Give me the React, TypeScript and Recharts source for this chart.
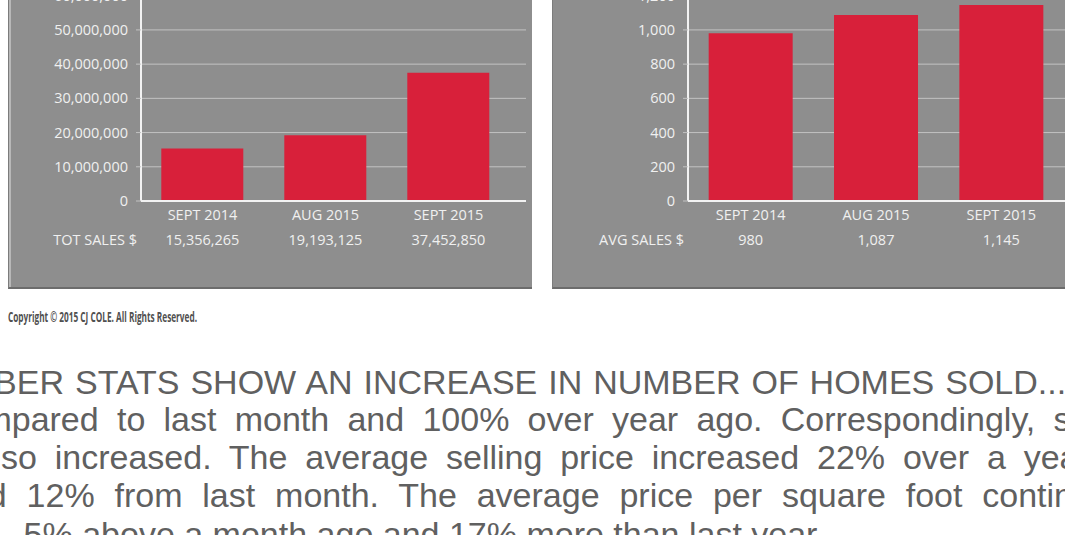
import { BarChart, Bar, XAxis, YAxis, CartesianGrid } from 'recharts';

const categories = ['SEPT 2014', 'AUG 2015', 'SEPT 2015'];
const totalSales = [15356265, 19193125, 37452850];
const avgSales = [980, 1087, 1145];
const totalTicks = [0, 10000000, 20000000, 30000000, 40000000, 50000000, 60000000];
const avgTicks = [0, 200, 400, 600, 800, 1000, 1200];

const copyright = 'Copyright © 2015 CJ COLE. All Rights Reserved.';
const paragraphLines = [
  'SEPTEMBER STATS SHOW AN INCREASE IN NUMBER OF HOMES SOLD...',
  'compared to last month and 100% over year ago. Correspondingly, sales',
  'also increased. The average selling price increased 22% over a year',
  'and 12% from last month. The average price per square foot continued',
  '5% above a month ago and 17% more than last year.',
];

// left offset, word spacing, baseline for each visible line
const lineLayout = [
  { left: -145.7, ws: 1.5, base: 393.3 },
  { left: -52.5, ws: 8.8, base: 431 },
  { left: -25.5, ws: 8.4, base: 469 },
  { left: -50, ws: 10.4, base: 506.7 },
  { left: 23.6, ws: 0, base: 545.5 },
];

const PANEL = '#8e8e8e';
const RED = '#d8203a';
const AXIS = '#f2f2f2';
const GRID = '#c2c2c2';
const LABEL = '#f0f0f0';
const FONT = '"Open Sans", "Liberation Sans", sans-serif';

const fmt = (v: number) => v.toLocaleString('en-US');

function StatChart({ values, ticks, rowLabel, yWidth, marginRight }: {
  values: number[];
  ticks: number[];
  rowLabel: string;
  yWidth: number;
  marginRight: number;
}) {
  const data = categories.map((name, i) => ({ name, value: values[i] }));

  const renderTick = (props: any) => {
    const { x, y, payload, index } = props;
    return (
      <g>
        <text x={x} y={y + 19} textAnchor="middle" fill={LABEL} fontSize={14.5} fontFamily={FONT}>
          {payload.value}
        </text>
        <text x={x} y={y + 44} textAnchor="middle" fill={LABEL} fontSize={14.5} fontFamily={FONT}>
          {fmt(values[index])}
        </text>
        {index === 0 && (
          <text x={yWidth - 4} y={y + 44} textAnchor="end" fill={LABEL} fontSize={14.5} fontFamily={FONT}>
            {rowLabel}
          </text>
        )}
      </g>
    );
  };

  return (
    <BarChart
      width={540}
      height={300}
      data={data}
      margin={{ top: 35.7, right: marginRight, bottom: 0, left: 0 }}
      barCategoryGap="16.5%"
    >
      <CartesianGrid vertical={false} stroke={GRID} strokeWidth={1} />
      <XAxis
        dataKey="name"
        interval={0}
        height={59}
        padding={{ left: 0, right: 16 }}
        axisLine={{ stroke: AXIS, strokeWidth: 2 }}
        tickLine={false}
        tickSize={0}
        tickMargin={0}
        tick={renderTick}
      />
      <YAxis
        width={yWidth}
        domain={[0, ticks[ticks.length - 1]]}
        ticks={ticks}
        interval={0}
        allowDataOverflow
        tickFormatter={fmt}
        axisLine={{ stroke: AXIS, strokeWidth: 2 }}
        tickLine={{ stroke: GRID }}
        tickSize={5}
        tickMargin={8}
        tick={{ fill: LABEL, fontSize: 14.5, fontFamily: FONT }}
      />
      <YAxis yAxisId="edge" orientation="right" width={0} tick={false} axisLine={{ stroke: AXIS, strokeWidth: 2 }} />
      <Bar dataKey="value" fill={RED} isAnimationActive={false} />
    </BarChart>
  );
}

export default function App() {
  return (
    <div style={{ position: 'absolute', left: 0, top: 0, width: 1065, height: 535, overflow: 'hidden', background: '#fff' }}>
      {/* grey panels */}
      <div style={{ position: 'absolute', left: 8, top: -20, width: 524, height: 309, background: PANEL, borderBottom: '2px solid #6c6c6c', borderLeft: '1px solid #7c7c7c', boxShadow: 'inset 2px 0 0 #b8b8b8', boxSizing: 'border-box' }} />
      <div style={{ position: 'absolute', left: 552, top: -20, width: 540, height: 309, background: PANEL, borderBottom: '2px solid #6c6c6c', borderLeft: '1px solid #7c7c7c', boxSizing: 'border-box' }} />

      <div style={{ position: 'absolute', left: 0, top: -40 }}>
        <StatChart values={totalSales} ticks={totalTicks} rowLabel="TOT SALES $" yWidth={141} marginRight={14} />
      </div>
      <div style={{ position: 'absolute', left: 545, top: -40 }}>
        <StatChart values={avgSales} ticks={avgTicks} rowLabel="AVG SALES $" yWidth={143} marginRight={5} />
      </div>

      <svg style={{ position: 'absolute', left: 0, top: 296 }} width={300} height={36}>
        <text x={8} y={25.5} fontSize={13.5} fontWeight={700} fill="#505050" fontFamily={FONT} textLength={189} lengthAdjust="spacingAndGlyphs">
          {copyright}
        </text>
      </svg>

      {paragraphLines.map((line, i) => (
        <div
          key={i}
          style={{
            position: 'absolute',
            left: lineLayout[i].left,
            top: lineLayout[i].base - 30.8,
            fontFamily: '"Liberation Sans", Arial, sans-serif',
            fontSize: 34,
            lineHeight: '38px',
            color: '#606060',
            whiteSpace: 'pre',
            wordSpacing: lineLayout[i].ws,
          }}
        >
          {line}
        </div>
      ))}
    </div>
  );
}
